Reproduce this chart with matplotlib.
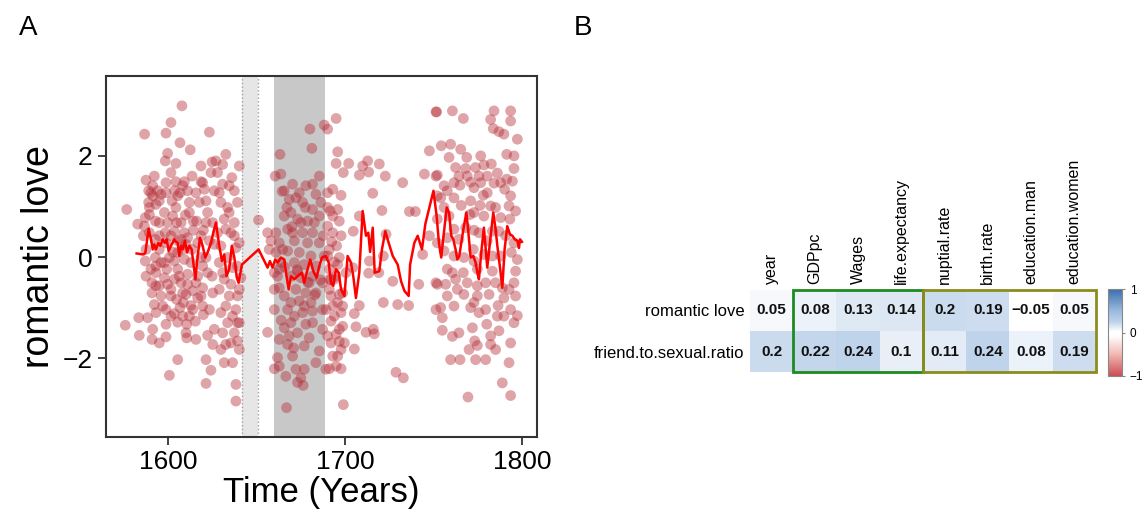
import numpy as np
import matplotlib
matplotlib.use("Agg")
import matplotlib.pyplot as plt
from matplotlib.colors import LinearSegmentedColormap
from matplotlib.patches import Rectangle

plt.rcParams['font.family'] = ['Liberation Sans', 'DejaVu Sans']

# ---------------- Panel A data ----------------
pts_1575_1627 = [
    (1607.9, 2.99), (1601.7, 2.66), (1586.8, 2.43), (1598.9, 2.45), (1623.4, 2.47), (1606.8, 2.26),
    (1612.6, 2.12), (1599.8, 2.05), (1598.5, 1.90), (1604.5, 1.85), (1618.7, 1.80), (1624.9, 1.88),
    (1601.7, 1.67), (1587.6, 1.52), (1604.5, 1.49), (1609.3, 1.49), (1618.7, 1.49), (1624.3, 1.67),
    (1591.4, 1.41), (1589.1, 1.31), (1594.2, 1.31), (1598.9, 1.27), (1603.6, 1.31), (1606.8, 1.27),
    (1591.4, 1.21), (1595.1, 1.11), (1589.1, 1.08), (1593.2, 1.04), (1602.3, 1.11), (1604.5, 0.98),
    (1612.1, 1.08), (1620.6, 1.34), (1621.5, 1.11), (1619.6, 1.47), (1626.2, 1.31), (1576.7, 0.94),
    (1582.9, 0.65), (1587.2, 0.78), (1592.9, 0.71), (1599.8, 0.68), (1604.9, 0.68), (1609.8, 0.83),
    (1616.2, 0.71), (1621.5, 0.68), (1598.5, 0.48), (1603.6, 0.51), (1609.3, 0.48), (1614.3, 0.53),
    (1620.0, 0.53), (1586.1, 0.42), (1592.9, 0.35), (1598.9, 0.28), (1605.5, 0.32), (1611.1, 0.38),
    (1616.8, 0.28), (1623.4, 0.32), (1595.1, 0.15), (1602.7, 0.10), (1608.3, 0.15), (1613.6, 0.15),
    (1587.2, -0.08), (1592.9, -0.01), (1598.0, -0.11), (1603.6, -0.08), (1609.3, -0.05), (1621.5, -0.01),
    (1587.6, -0.38), (1593.2, -0.31), (1599.3, -0.24), (1605.5, -0.24), (1611.1, -0.34), (1616.8, -0.38),
    (1622.4, -0.31), (1591.0, -0.51), (1595.1, -0.57), (1599.8, -0.54), (1607.4, -0.51), (1614.0, -0.67),
    (1619.6, -0.61), (1591.0, -0.71), (1596.1, -0.77), (1601.7, -0.77), (1608.7, -0.90), (1613.0, -0.96),
    (1592.3, -0.94), (1597.0, -0.97), (1619.6, -0.97), (1603.6, -1.12), (1608.3, -1.17), (1605.5, -1.29),
    (1610.6, -1.33), (1615.5, -1.27), (1620.0, -1.14), (1583.5, -1.20), (1588.5, -1.20), (1575.9, -1.35),
    (1598.9, -1.33), (1583.8, -1.55), (1591.0, -1.63), (1598.9, -1.58), (1610.6, -1.60), (1622.4, -1.55),
    (1625.3, -1.73), (1605.5, -2.03), (1621.5, -2.03), (1624.3, -2.24), (1600.8, -2.34), (1621.5, -2.50),
    (1627.1, 1.90), (1590.4, 1.27), (1596.1, 1.24), (1605.5, 1.21), (1608.3, 1.41), (1598.0, 0.88),
    (1602.7, 0.81), (1607.4, 0.68), (1601.7, 0.42), (1607.4, 0.35), (1593.2, -0.18), (1600.8, -0.01),
    (1606.4, -0.38), (1598.0, -0.41), (1610.2, -0.74), (1604.9, -0.84), (1606.8, -1.00), (1593.2, -0.57),
    (1615.8, -0.51), (1618.7, -0.77),
    (1589.5, 0.98), (1586.7, 0.61), (1595.1, 0.68), (1612.1, 0.88), (1614.3, 0.71), (1617.7, 1.08),
    (1622.4, 0.88), (1625.3, 0.68), (1626.2, 0.25), (1618.7, -0.01), (1613.0, -0.11), (1590.4, -0.24),
    (1603.6, -0.44), (1611.1, -0.54), (1624.9, -0.38), (1625.3, -0.71), (1598.9, -1.04), (1614.0, -1.04),
    (1623.4, -1.04), (1610.2, -1.50), (1615.8, -1.63), (1626.2, -1.43), (1591.4, -1.43), (1595.1, -1.70),
    (1589.5, 0.84), (1611.1, 1.31), (1613.6, 1.60), (1615.8, 1.27), (1598.9, 1.47), (1592.3, 1.60),
    (1595.1, 0.42), (1589.5, 0.48), (1605.5, 0.09), (1610.2, 0.25), (1618.7, 0.42), (1587.6, 0.15),
    (1596.1, -0.11), (1619.6, -0.18), (1601.7, -0.64), (1608.3, -0.71), (1612.1, -1.17), (1601.7, -1.17),
    (1616.8, -0.81), (1593.2, -1.10),
]

pts_1627_1689 = [
    (1632.7, 2.03), (1630.9, 1.83), (1640.3, 1.80), (1636.1, 1.57), (1628.0, 1.67), (1630.9, 1.44),
    (1634.6, 1.41), (1637.5, 1.31), (1629.9, 1.08), (1633.7, 0.98), (1631.8, 0.75), (1637.5, 0.68),
    (1635.6, 0.48), (1640.3, 0.28), (1629.9, 0.22), (1638.4, 0.18), (1633.7, -0.01), (1629.0, -0.11),
    (1636.5, -0.21), (1631.8, -0.44), (1635.6, -0.54), (1641.2, -0.41), (1629.0, -0.64), (1639.3, -0.77),
    (1632.7, -0.97), (1638.4, -1.04), (1633.7, -1.30), (1639.3, -1.30), (1630.9, -1.50), (1637.5, -1.50),
    (1632.7, -1.73), (1639.3, -1.66), (1631.8, -2.09), (1636.5, -2.09), (1638.4, -2.52), (1638.4, -2.85),
    (1651.2, 0.73), (1656.3, -1.49),
    (1629.0, 1.27), (1632.7, 0.55), (1637.5, 0.42), (1628.0, 0.48), (1630.9, -0.31), (1639.3, -0.18),
    (1634.6, -0.77), (1629.9, -1.10), (1636.5, -1.17), (1640.3, -0.64), (1640.3, -1.30), (1635.6, -1.70),
    (1629.9, -1.83), (1640.3, -1.83), (1634.6, 0.88), (1639.3, 1.08),
    (1680.2, 2.53), (1681.3, 2.15), (1688.3, 2.61), (1663.3, 2.03), (1660.6, 1.60), (1663.8, 1.64),
    (1670.4, 1.44), (1677.9, 1.41), (1681.7, 1.44), (1674.2, 1.27), (1668.5, 1.14), (1672.3, 1.17),
    (1683.6, 1.24), (1667.2, 0.98), (1677.6, 0.98), (1681.7, 0.94), (1665.7, 0.81), (1673.2, 0.75),
    (1678.9, 0.71), (1685.5, 0.81), (1661.0, 0.48), (1667.6, 0.55), (1676.1, 0.48), (1681.7, 0.48),
    (1658.2, 0.32), (1662.9, 0.28), (1671.4, 0.32), (1678.9, 0.28), (1685.5, 0.28), (1661.0, 0.09),
    (1667.6, 0.12), (1674.2, 0.09), (1680.8, 0.02), (1663.8, -0.11), (1671.4, -0.11), (1677.0, -0.15),
    (1683.6, -0.18), (1661.9, -0.38), (1669.5, -0.38), (1675.1, -0.41), (1681.7, -0.38), (1662.9, -0.61),
    (1672.3, -0.64), (1677.9, -0.71), (1665.7, -0.77), (1674.2, -0.87), (1680.8, -0.90), (1660.1, -1.04),
    (1667.6, -1.04), (1676.1, -1.10), (1681.7, -1.07), (1669.5, -1.30), (1677.9, -1.33), (1662.9, -1.63),
    (1668.5, -1.56), (1667.6, -1.73), (1679.8, -1.60), (1661.9, -1.99), (1685.5, -1.86), (1660.1, -2.21),
    (1666.6, -2.36), (1672.3, -2.22), (1677.0, -2.22), (1675.1, -2.39), (1673.2, -2.48), (1676.4, -2.54),
    (1667.0, -2.98), (1656.3, 0.48), (1657.2, 0.15), (1660.1, -0.31), (1688.3, 0.02), (1687.7, 0.42),
    (1689.2, -2.22), (1664.5, 1.30), (1670.0, 0.60), (1666.0, -0.20), (1673.0, -0.25), (1679.0, -0.50),
    (1683.0, -0.75), (1664.0, -1.25), (1671.0, -1.80), (1686.0, -0.45),
    (1664.8, 0.15), (1670.4, 0.48), (1675.1, 0.68), (1682.7, 0.68), (1669.5, 0.88), (1665.7, 1.31),
    (1676.1, 1.08), (1685.5, 1.60), (1686.4, 1.08), (1662.9, -0.24), (1673.2, -0.28), (1679.8, -0.51),
    (1683.6, -0.71), (1669.5, -0.90), (1677.0, -0.97), (1671.4, -1.17), (1681.7, -1.30), (1665.7, -1.40),
    (1673.2, -1.50), (1677.0, -1.76), (1670.4, -1.96), (1662.9, -2.16), (1683.6, -2.09), (1660.1, -0.64),
    (1687.4, -0.51), (1687.4, -1.04), (1687.4, -1.43),
]

pts_1689_1750 = [
    (1695.0, 2.74), (1690.2, 2.53), (1695.9, 2.08), (1695.0, 1.85), (1702.1, 1.85), (1699.1, 1.67),
    (1708.1, 1.62), (1710.0, 1.80), (1712.8, 1.90), (1713.4, 1.68), (1719.4, 1.84), (1722.8, 1.60),
    (1732.6, 1.47), (1747.7, 2.10), (1744.9, 1.64), (1693.1, 1.34), (1697.8, 1.22), (1690.2, 1.27),
    (1715.7, 1.26), (1695.9, 0.94), (1691.6, 0.91), (1696.8, 0.71), (1693.1, 0.48), (1695.3, 0.22),
    (1690.2, 0.61), (1704.7, 0.51), (1708.1, 0.81), (1720.9, 0.92), (1736.4, 0.90), (1739.8, 0.90),
    (1723.2, 0.45), (1747.7, 0.42), (1690.2, 0.02), (1696.8, -0.01), (1691.2, -0.24), (1694.9, -0.38),
    (1704.4, -0.21), (1713.8, -0.08), (1721.7, 0.02), (1713.4, -0.32), (1719.1, -0.31), (1727.0, -0.48),
    (1741.7, -0.54), (1743.9, 0.05), (1691.2, -0.64), (1696.8, -0.74), (1693.1, -0.97), (1697.8, -1.10),
    (1708.1, -0.96), (1705.3, -1.12), (1721.7, -0.90), (1729.8, -0.94), (1736.0, -0.96), (1692.1, -1.27),
    (1698.7, -1.37), (1706.2, -1.38), (1695.0, -1.53), (1692.1, -1.70), (1697.8, -1.83), (1705.3, -1.82),
    (1711.9, -1.49), (1716.6, -1.52), (1716.0, -1.43), (1695.9, -1.96), (1691.2, -2.21), (1697.8, -2.21),
    (1728.8, -2.28), (1733.0, -2.39), (1699.1, -2.92), (1696.8, -1.67), (1694.0, -0.44), (1689.3, -1.04),
    (1751.4, 1.60), (1751.4, -0.51), (1751.4, -1.04), (1692.5, 0.30), (1694.0, -0.10), (1692.0, -0.45),
    (1693.1, 0.81), (1697.8, 0.42), (1691.2, 0.15), (1695.9, -0.15), (1692.1, -0.77), (1695.9, -0.90),
    (1698.7, -0.97), (1694.0, -1.17), (1696.8, -1.43), (1690.2, -1.56), (1699.7, -1.70), (1693.1, -1.96),
    (1695.0, -2.16), (1698.7, -0.71), (1691.2, -0.44), (1700.6, -0.31), (1690.2, 0.98),
]

pts_1750_1800 = [
    (1751.4, 2.87), (1751.8, 2.87), (1760.7, 2.89), (1766.9, 2.74), (1784.2, 2.89), (1793.6, 2.89),
    (1782.3, 2.72), (1793.6, 2.69), (1783.8, 2.54), (1787.0, 2.48), (1789.8, 2.43), (1797.4, 2.33),
    (1754.4, 2.20), (1759.7, 2.23), (1765.4, 2.13), (1758.8, 1.97), (1768.8, 1.97), (1776.7, 2.00),
    (1791.4, 2.03), (1795.5, 2.00), (1762.5, 1.77), (1768.2, 1.75), (1773.8, 1.77), (1778.5, 1.82),
    (1782.7, 1.84), (1795.5, 1.75), (1752.2, 1.62), (1764.4, 1.60), (1769.1, 1.60), (1775.7, 1.60),
    (1780.4, 1.60), (1786.1, 1.66), (1791.4, 1.54), (1765.0, 1.42), (1772.9, 1.37), (1784.2, 1.46),
    (1794.6, 1.50), (1757.8, 1.31), (1780.4, 1.27), (1790.2, 1.34), (1754.1, 1.17), (1761.6, 1.17),
    (1771.0, 1.11), (1778.2, 1.22), (1756.0, 0.98), (1765.7, 1.02), (1776.3, 1.02), (1782.3, 1.01),
    (1796.4, 0.91), (1758.8, 0.81), (1770.6, 0.84), (1778.5, 0.81), (1752.2, 0.75), (1788.0, 0.78),
    (1768.2, 0.58), (1772.9, 0.53), (1787.0, 0.51), (1793.2, 0.75), (1757.8, 0.38), (1764.4, 0.35),
    (1780.4, 0.32), (1752.2, 0.28), (1795.5, 0.28), (1778.5, 0.05), (1767.2, -0.01), (1794.0, 0.09),
    (1757.8, -0.24), (1760.7, -0.31), (1766.9, -0.31), (1774.8, -0.24), (1783.3, -0.28), (1796.4, -0.28),
    (1752.2, -0.54), (1756.9, -0.54), (1762.5, -0.44), (1763.5, -0.64), (1779.5, -0.51), (1788.9, -0.61),
    (1795.5, -0.51), (1767.2, -0.74), (1774.8, -0.77), (1781.4, -0.74), (1789.8, -0.81), (1796.4, -0.77),
    (1754.1, -1.00), (1772.9, -0.90), (1786.5, -0.96), (1793.6, -1.04), (1797.4, -1.16), (1755.0, -1.20),
    (1771.0, -1.00), (1775.7, -1.10), (1786.1, -1.17), (1755.0, -1.45), (1764.4, -1.50), (1772.0, -1.40),
    (1780.1, -1.33), (1787.0, -1.46), (1760.7, -1.57), (1773.3, -1.66), (1774.8, -1.75), (1782.3, -1.73),
    (1785.1, -1.83), (1770.1, -1.83), (1759.7, -2.03), (1765.0, -2.03), (1773.8, -2.03), (1779.5, -2.03),
    (1792.7, -2.09), (1788.9, -2.49), (1769.5, -2.77), (1793.6, -2.74), (1788.0, 0.02), (1772.5, 0.15),
    (1752.2, 1.21), (1756.0, 1.41), (1761.6, 1.47), (1771.0, 1.48), (1776.7, 1.47), (1788.0, 1.47),
    (1793.6, 1.21), (1772.9, 0.88), (1785.1, 0.98), (1792.7, 1.01), (1761.6, 0.55), (1775.7, 0.48),
    (1783.3, 0.51), (1790.8, 0.42), (1756.0, 0.12), (1761.6, 0.02), (1772.9, -0.08), (1783.3, 0.02),
    (1797.4, -0.05), (1769.1, -0.51), (1774.8, -0.57), (1785.1, -0.51), (1792.7, -0.64), (1757.8, -0.77),
    (1761.6, -0.97), (1779.5, -1.04), (1789.8, -1.17), (1795.5, -1.30), (1782.3, -1.56), (1793.6, -1.70),
]

line_year = [
    1582.3, 1586.1, 1587.2, 1589.1, 1590.4, 1591.4, 1592.3, 1593.2, 1594.6, 1595.7, 1597.0, 1598.3,
    1599.3, 1600.4, 1601.7, 1603.6, 1604.5, 1605.5, 1606.4, 1607.4, 1608.3, 1609.6, 1610.8, 1612.1,
    1613.4, 1614.3, 1615.5, 1616.8, 1618.1, 1619.6, 1621.1, 1622.4, 1624.3, 1625.6, 1627.1,
    1629.0, 1630.5, 1631.8, 1633.1, 1634.6, 1636.1, 1637.5, 1638.8, 1639.9, 1641.8, 1651.2, 1656.3,
    1657.6, 1659.1, 1660.6, 1662.1, 1663.8, 1665.7, 1667.0, 1668.2, 1669.5, 1671.4, 1673.2, 1675.7,
    1677.0, 1678.9, 1680.4, 1682.1, 1684.0, 1685.5, 1687.0, 1689.2,
    1690.8, 1692.1, 1693.4, 1694.9, 1696.5, 1697.8, 1699.7, 1701.5, 1703.4, 1704.7, 1706.2, 1708.1,
    1710.0, 1711.9, 1713.2, 1714.2, 1715.7, 1716.8, 1719.4, 1720.9, 1722.8, 1724.7, 1727.0, 1729.8,
    1731.7, 1733.6, 1736.0, 1736.8, 1739.2, 1741.1, 1743.5, 1745.4, 1747.7, 1750.0,
    1751.8, 1753.1, 1754.4, 1755.9, 1757.5, 1758.8, 1760.1, 1761.2, 1762.5, 1763.5, 1764.6, 1765.7,
    1767.2, 1768.6, 1769.9, 1771.0, 1772.5, 1773.8, 1774.8, 1775.7, 1777.0, 1778.5, 1779.5, 1780.4,
    1781.9, 1783.8, 1785.1, 1786.1, 1787.6, 1788.9, 1790.2, 1791.7, 1793.2, 1794.6, 1795.9, 1797.4,
    1798.3, 1798.9, 1800.0,
]
line_val = [
    0.07, 0.05, 0.08, 0.56, 0.35, 0.15, 0.25, 0.15, 0.28, 0.22, 0.35, 0.28,
    0.35, 0.12, 0.22, 0.35, 0.30, 0.28, 0.02, 0.22, 0.15, 0.32, 0.09, 0.22,
    0.15, -0.11, -0.44, 0.02, 0.38, 0.22, -0.01, 0.09, 0.28, 0.48, 0.68,
    0.22, -0.08, 0.05, -0.38, -0.24, 0.22, -0.01, -0.38, -0.51, -0.15, 0.15, -0.21,
    -0.08, -0.21, -0.05, -0.11, -0.01, -0.05, -0.38, -0.64, -0.38, -0.44, -0.38, -0.31,
    -0.51, -0.24, -0.05, -0.28, -0.41, -0.18, -0.01, 0.02,
    -0.11, -0.51, -0.57, -0.24, -0.31, -0.64, -0.77, 0.02, -0.11, -0.38, -0.81, -0.31,
    0.91, 0.42, 0.48, 0.10, 0.58, -0.31, -0.28, 0.15, 0.51, 0.28, 0.02, -0.15,
    -0.48, -0.67, -0.77, -0.15, 0.28, 0.42, 0.15, 0.65, 0.98, 1.31,
    0.81, 0.28, -0.01, 0.48, 0.98, 0.88, 0.42, 0.35, 0.15, -0.05, 0.02, 0.28,
    0.61, 0.88, 0.42, -0.01, 0.02, -0.11, -0.31, -0.44, 0.09, 0.58, 0.15, -0.21,
    0.28, 0.88, 0.55, 0.22, -0.21, -0.61, 0.15, 0.61, 0.45, 0.42, 0.35, 0.32,
    0.18, 0.35, 0.30,
]

civil_war = (1642, 1651)
restoration = (1660, 1689)

# ---------------- Panel B data ----------------
row_labels = ["romantic love", "friend.to.sexual.ratio"]
col_labels = ["year", "GDPpc", "Wages", "life.expectancy", "nuptial.rate",
              "birth.rate", "education.man", "education.women"]
corr_romantic = [0.05, 0.08, 0.13, 0.14, 0.2, 0.19, -0.05, 0.05]
corr_friend = [0.2, 0.22, 0.24, 0.1, 0.11, 0.24, 0.08, 0.19]

# ---------------- Figure ----------------
fig = plt.figure(figsize=(11.47, 5.18), dpi=100)

axA = fig.add_axes([106/1147, 1-437/518, (537-106)/1147, (437-76)/518])
axA.axvspan(*civil_war, color='#e6e6e6', lw=0, zorder=0)
for xv in civil_war:
    axA.axvline(xv, color='#a0a0a0', ls=':', lw=1.0, zorder=0.5)
axA.axvspan(*restoration, color='#c8c8c8', lw=0, zorder=0)

all_pts = pts_1575_1627 + pts_1627_1689 + pts_1689_1750 + pts_1750_1800
xs = [p[0] for p in all_pts]
ys = [p[1] for p in all_pts]
axA.scatter(xs, ys, s=60, color='#b52d37', alpha=0.43, edgecolors='none', zorder=2)
axA.plot(line_year, line_val, color='#ff0000', lw=1.8, zorder=3)

axA.set_xlim(1565, 1808.5)
axA.set_ylim(-3.56, 3.58)
axA.set_xticks([1600, 1700, 1800])
axA.set_yticks([-2, 0, 2])
axA.set_yticklabels(['\u22122', '0', '2'])
axA.tick_params(labelsize=19, length=6, width=1.3, color='#333333', direction='out')
for sp in axA.spines.values():
    sp.set_color('#333333')
    sp.set_linewidth(1.5)
axA.set_xlabel('Time (Years)', fontsize=25, labelpad=1)
axA.set_ylabel('romantic love', fontsize=27, labelpad=4)

fig.text(28/1147, 1-28/518, 'A', fontsize=20, ha='center', va='center')
fig.text(583/1147, 1-28/518, 'B', fontsize=20, ha='center', va='center')

# ---------------- Panel B ----------------
cmap = LinearSegmentedColormap.from_list('corr', [
    (0.0, (0.80, 0.30, 0.33)),
    (0.25, (0.95, 0.72, 0.70)),
    (0.46, (1.0, 1.0, 1.0)),
    (0.51, (1.0, 1.0, 1.0)),
    (0.62, (0.75, 0.83, 0.92)),
    (0.75, (0.60, 0.73, 0.87)),
    (1.0, (0.23, 0.43, 0.68)),
])

mat = np.array([corr_romantic, corr_friend])
axB = fig.add_axes([750/1147, 1-372/518, 346/1147, 82/518])
im = axB.imshow(mat, cmap=cmap, vmin=-1, vmax=1, aspect='auto')
for i in range(mat.shape[0]):
    for j in range(mat.shape[1]):
        v = mat[i, j]
        txt = f"{v:g}".replace('-', '\u2212')
        axB.text(j, i, txt, ha='center', va='center', fontsize=11, fontweight='bold', color='#111111')
axB.set_xticks(range(len(col_labels)))
axB.set_xticklabels(col_labels, rotation=90, fontsize=11.5)
axB.set_yticks(range(len(row_labels)))
axB.set_yticklabels(row_labels, fontsize=12)
axB.xaxis.tick_top()
axB.tick_params(length=0, pad=4)
for sp in axB.spines.values():
    sp.set_visible(False)
axB.add_patch(Rectangle((0.5, -0.5), 3, 2, fill=False, edgecolor='#1f8a1f', lw=2.0, zorder=5, clip_on=False))
axB.add_patch(Rectangle((3.5, -0.5), 4, 2, fill=False, edgecolor='#8c8c1c', lw=2.0, zorder=5, clip_on=False))

cax = fig.add_axes([1108/1147, 1-376/518, 14/1147, 87/518])
cb = fig.colorbar(im, cax=cax, ticks=[-1, 0, 1])
cb.ax.set_yticklabels(['\u22121', '0', '1'])
cb.ax.tick_params(labelsize=8.5, length=2, color='#888888')
cb.outline.set_edgecolor('#888888')
cb.outline.set_linewidth(0.8)

fig.savefig('out.png', dpi=100)
